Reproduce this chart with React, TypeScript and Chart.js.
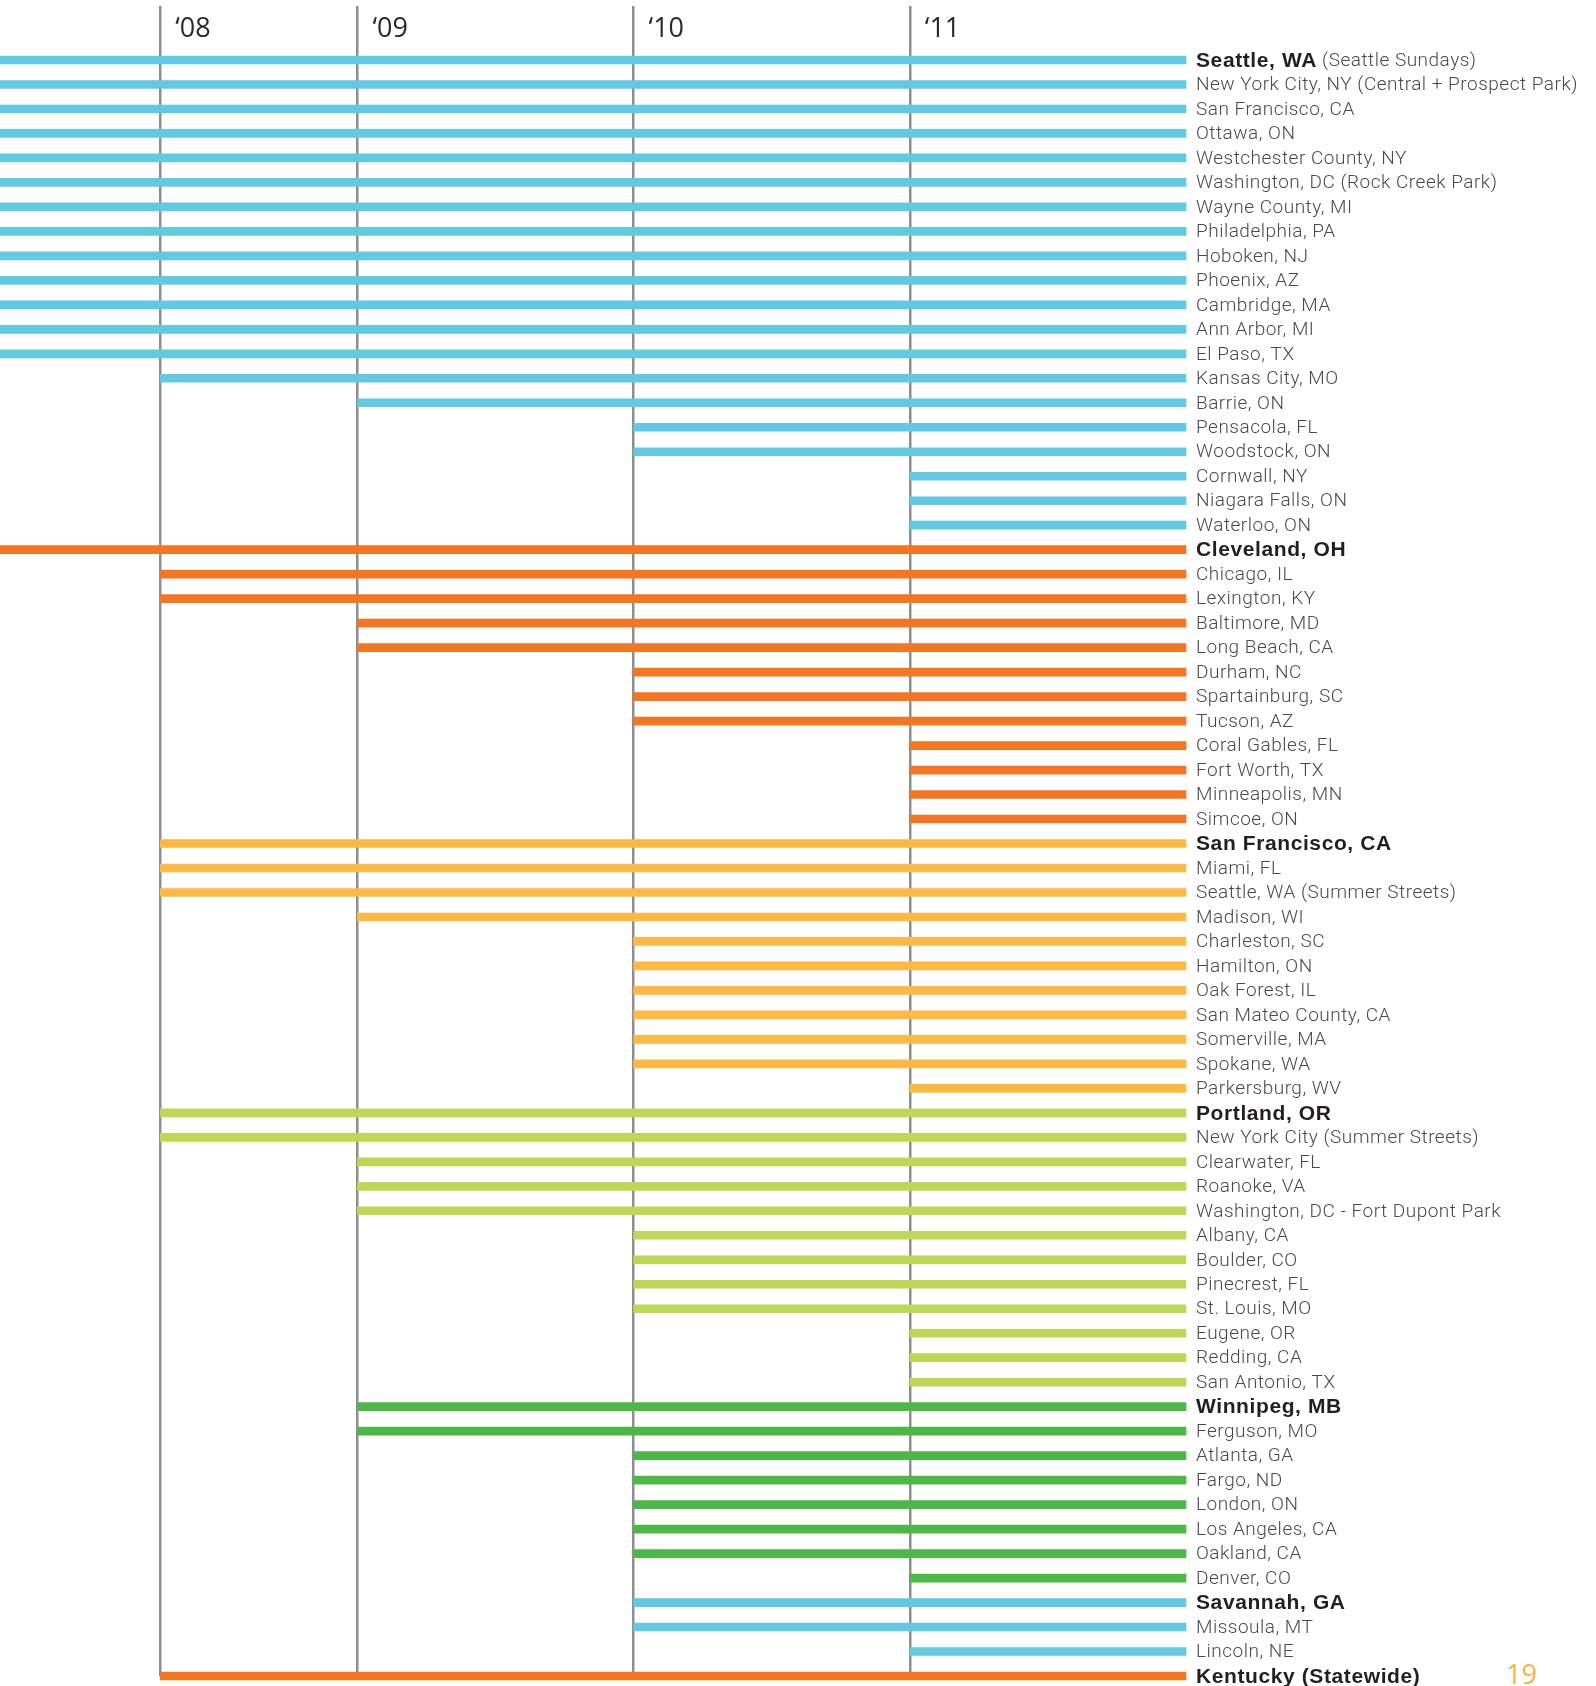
import React, { useEffect, useRef } from "react";
import { Chart, registerables, LinearScale } from "chart.js";

// ---------------- DATA ----------------
// Start year of each open-streets program (2007 = started before 2008)
const CITIES: string[] = [
  "Seattle, WA (Seattle Sundays)",
  "New York City, NY (Central + Prospect Park)",
  "San Francisco, CA",
  "Ottawa, ON",
  "Westchester County, NY",
  "Washington, DC (Rock Creek Park)",
  "Wayne County, MI",
  "Philadelphia, PA",
  "Hoboken, NJ",
  "Phoenix, AZ",
  "Cambridge, MA",
  "Ann Arbor, MI",
  "El Paso, TX",
  "Kansas City, MO",
  "Barrie, ON",
  "Pensacola, FL",
  "Woodstock, ON",
  "Cornwall, NY",
  "Niagara Falls, ON",
  "Waterloo, ON",
  "Cleveland, OH",
  "Chicago, IL",
  "Lexington, KY",
  "Baltimore, MD",
  "Long Beach, CA",
  "Durham, NC",
  "Spartainburg, SC",
  "Tucson, AZ",
  "Coral Gables, FL",
  "Fort Worth, TX",
  "Minneapolis, MN",
  "Simcoe, ON",
  "San Francisco, CA",
  "Miami, FL",
  "Seattle, WA (Summer Streets)",
  "Madison, WI",
  "Charleston, SC",
  "Hamilton, ON",
  "Oak Forest, IL",
  "San Mateo County, CA",
  "Somerville, MA",
  "Spokane, WA",
  "Parkersburg, WV",
  "Portland, OR",
  "New York City (Summer Streets)",
  "Clearwater, FL",
  "Roanoke, VA",
  "Washington, DC - Fort Dupont Park",
  "Albany, CA",
  "Boulder, CO",
  "Pinecrest, FL",
  "St. Louis, MO",
  "Eugene, OR",
  "Redding, CA",
  "San Antonio, TX",
  "Winnipeg, MB",
  "Ferguson, MO",
  "Atlanta, GA",
  "Fargo, ND",
  "London, ON",
  "Los Angeles, CA",
  "Oakland, CA",
  "Denver, CO",
  "Savannah, GA",
  "Missoula, MT",
  "Lincoln, NE",
  "Kentucky (Statewide)",
];

const START_YEARS: number[] = [
  2007, 2007, 2007, 2007, 2007, 2007, 2007, 2007, 2007, 2007, 2007, 2007, 2007,
  2008, 2009, 2010, 2010, 2011, 2011, 2011,
  2007, 2008, 2008, 2009, 2009, 2010, 2010, 2010, 2011, 2011, 2011, 2011,
  2008, 2008, 2008, 2009, 2010, 2010, 2010, 2010, 2010, 2010, 2011,
  2008, 2008, 2009, 2009, 2009, 2010, 2010, 2010, 2010, 2011, 2011, 2011,
  2009, 2009, 2010, 2010, 2010, 2010, 2010, 2011,
  2010, 2010, 2011,
  2008,
];

const END_YEAR = 2012;

// colour group of each row
const ROW_GROUPS: string[] = [
  ...Array(20).fill("blue"),
  ...Array(12).fill("orange"),
  ...Array(11).fill("yellow"),
  ...Array(12).fill("lime"),
  ...Array(8).fill("green"),
  ...Array(3).fill("blue"),
  "orange",
];

// heading rows and their bold part
const HEADING_ROWS: number[] = [0, 20, 32, 43, 55, 63, 66];
const HEADING_BOLD: string[] = [
  "Seattle, WA",
  "Cleveland, OH",
  "San Francisco, CA",
  "Portland, OR",
  "Winnipeg, MB",
  "Savannah, GA",
  "Kentucky (Statewide)",
];

const YEAR_TICKS: number[] = [2008, 2009, 2010, 2011];
const YEAR_LABELS: string[] = ["\u201808", "\u201809", "\u201810", "\u201811"];
const PAGE_NUMBER = "19";

// ---------------- STYLE ----------------
const PALETTE: Record<string, string> = {
  blue: "#62c9e5",
  orange: "#f47522",
  yellow: "#fdb944",
  lime: "#bed856",
  green: "#4cb848",
};

// relative widths of the timeline segments [pre-'08, '08, '09, '10, '11]
const TIMELINE_STOPS = [2007, 2008, 2009, 2010, 2011, 2012];
const TIMELINE_SEGMENTS = [0.58, 0.714, 1, 1, 1];

function valueToDecimal(v: number): number {
  const total = TIMELINE_SEGMENTS.reduce((a, b) => a + b, 0);
  let acc = 0;
  for (let i = 0; i < TIMELINE_SEGMENTS.length; i++) {
    const a = TIMELINE_STOPS[i];
    const b = TIMELINE_STOPS[i + 1];
    if (v <= b || i === TIMELINE_SEGMENTS.length - 1) {
      const f = (v - a) / (b - a);
      return (acc + f * TIMELINE_SEGMENTS[i]) / total;
    }
    acc += TIMELINE_SEGMENTS[i];
  }
  return 1;
}
function decimalToValue(d: number): number {
  const total = TIMELINE_SEGMENTS.reduce((a, b) => a + b, 0);
  let pos = d * total;
  for (let i = 0; i < TIMELINE_SEGMENTS.length; i++) {
    if (pos <= TIMELINE_SEGMENTS[i] || i === TIMELINE_SEGMENTS.length - 1) {
      return TIMELINE_STOPS[i] + (pos / TIMELINE_SEGMENTS[i]) * (TIMELINE_STOPS[i + 1] - TIMELINE_STOPS[i]);
    }
    pos -= TIMELINE_SEGMENTS[i];
  }
  return TIMELINE_STOPS[TIMELINE_STOPS.length - 1];
}

class TimelineScale extends LinearScale {
  static id = "timeline";
  static defaults = {};
  getPixelForValue(value: any) {
    if (value === null || value === undefined || isNaN(value)) return NaN;
    return this.getPixelForDecimal(valueToDecimal(Number(value)));
  }
  getValueForPixel(pixel: number) {
    return decimalToValue(this.getDecimalForPixel(pixel));
  }
}

Chart.register(...registerables, TimelineScale as any);

const LIGHT_FONT = '300 19px "Roboto"';
const BOLD_FONT = 'bold 21px "Liberation Sans"';

const labelsPlugin = {
  id: "rowLabels",
  afterDatasetsDraw(chart: any) {
    const ctx: CanvasRenderingContext2D = chart.ctx;
    const xs = chart.scales.x;
    const ys = chart.scales.y;
    ctx.save();
    // year labels
    ctx.font = '400 27px "Open Sans"';
    ctx.fillStyle = "#2a2a2a";
    ctx.textAlign = "left";
    ctx.textBaseline = "alphabetic";
    YEAR_TICKS.forEach((yr, i) => {
      ctx.fillText(YEAR_LABELS[i], xs.getPixelForValue(yr) + 15, 37);
    });
    // row labels
    const lx = chart.chartArea.right + 10;
    ctx.textBaseline = "middle";
    CITIES.forEach((name, i) => {
      const py = ys.getPixelForValue(i) + 1;
      const h = HEADING_ROWS.indexOf(i);
      let x = lx;
      let rest = name;
      if (h >= 0) {
        const b = HEADING_BOLD[h];
        ctx.font = BOLD_FONT;
        (ctx as any).letterSpacing = "0.6px";
        ctx.fillStyle = "#231f20";
        ctx.fillText(b, x, py);
        x += ctx.measureText(b).width;
        rest = name.slice(b.length);
      }
      if (rest.length) {
        ctx.font = LIGHT_FONT;
        (ctx as any).letterSpacing = "0.5px";
        ctx.fillStyle = "#4a4a4a";
        ctx.fillText(rest, x, py);
      }
    });
    (ctx as any).letterSpacing = "0px";
    // page number
    ctx.font = '400 27px "Open Sans"';
    ctx.fillStyle = "#fbb040";
    ctx.textBaseline = "alphabetic";
    ctx.fillText(PAGE_NUMBER, 1506, 1684);
    ctx.restore();
  },
};

export default function App() {
  const ref = useRef<HTMLCanvasElement>(null);
  useEffect(() => {
    if (!ref.current) return;
    const chart = new Chart(ref.current, {
      type: "bar",
      data: {
        datasets: [
          {
            data: CITIES.map((_, i) => ({ x: [START_YEARS[i], END_YEAR], y: i })) as any,
            backgroundColor: ROW_GROUPS.map((g) => PALETTE[g]),
            barThickness: 8,
            borderWidth: 0,
            borderSkipped: false,
            clip: false as any,
          },
        ],
      },
      options: {
        indexAxis: "y",
        animation: false,
        responsive: false,
        layout: { padding: { left: 0, right: 410, top: 6, bottom: 10 } },
        plugins: { legend: { display: false }, tooltip: { enabled: false } },
        scales: {
          x: {
            type: "timeline" as any,
            min: 2007,
            max: 2012,
            offset: false,
            afterBuildTicks: (scale: any) => {
              scale.ticks = YEAR_TICKS.map((v) => ({ value: v }));
            },
            ticks: { display: false },
            border: { display: false },
            grid: { color: "#8e8e91", lineWidth: 2.5, drawTicks: false, offset: false },
          },
          y: {
            type: "linear",
            reverse: true,
            offset: false,
            min: -2.205,
            max: 66,
            display: false,
            grid: { offset: false },
          },
        },
      },
      plugins: [labelsPlugin],
    });
    return () => chart.destroy();
  }, []);
  return (
    <div style={{ position: "absolute", left: 0, top: 0, width: 1596, height: 1686, background: "#fff" }}>
      <canvas ref={ref} width={1596} height={1686} style={{ display: "block" }} />
    </div>
  );
}
